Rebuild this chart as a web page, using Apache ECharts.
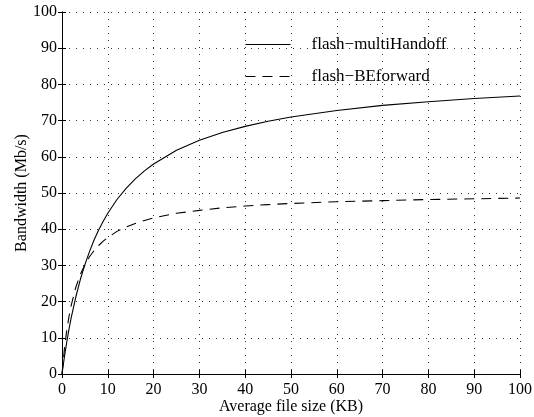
<!DOCTYPE html>
<html>
<head>
<meta charset="utf-8">
<script src="https://cdn.jsdelivr.net/npm/echarts@6/dist/echarts.min.js"></script>
<style>
  html, body { margin: 0; padding: 0; background: #fff; }
  #main { width: 534px; height: 417px; }
</style>
</head>
<body>
<div id="main"></div>
<script>
// values
var fileSize = [0, 0.5, 1, 1.5, 2, 3, 4, 5, 6, 7, 8, 9, 10, 12, 14, 16, 18, 20, 25, 30, 35, 40, 45, 50, 60, 70, 80, 90, 100];
var multiHandoff = [0, 4.5, 8.5, 12.2, 15.5, 21.2, 26.1, 30.2, 33.8, 37.0, 39.8, 42.2, 44.4, 48.2, 51.3, 53.9, 56.1, 58.0, 61.8, 64.6, 66.7, 68.4, 69.8, 71.0, 72.8, 74.2, 75.2, 76.1, 76.8];
var beForward = [0, 6.6, 11.7, 15.7, 18.9, 23.9, 27.5, 30.2, 32.4, 34.1, 35.5, 36.7, 37.7, 39.4, 40.6, 41.6, 42.4, 43.1, 44.4, 45.2, 45.9, 46.4, 46.8, 47.1, 47.6, 47.9, 48.2, 48.4, 48.6];
var seriesNames = ['flash\u2212multiHandoff', 'flash\u2212BEforward'];

function pairs(xs, ys) {
  return xs.map(function (x, i) { return [x, ys[i]]; });
}

var font = 'Liberation Serif';
var myChart = echarts.init(document.getElementById('main'));

var tickIn = { show: true, inside: true, length: 4, lineStyle: { color: '#000' } };
var dotted = { show: true, lineStyle: { color: '#333', type: [1, 6], width: 1 } };

var option = {
  backgroundColor: '#fff',
  animation: false,
  grid: { left: 62, right: 14, top: 12, bottom: 43, outerBoundsMode: 'none' },
  legend: {
    orient: 'vertical',
    left: 240,
    top: 31,
    itemWidth: 45,
    itemHeight: 14,
    itemGap: 15,
    itemStyle: { opacity: 0 },
    lineStyle: { width: 1 },
    textStyle: { fontFamily: font, fontSize: 17, color: '#000', padding: [0, 0, 0, 16] },
    data: seriesNames
  },
  xAxis: [
    {
      type: 'value', min: 0, max: 100, interval: 10,
      name: 'Average file size (KB)', nameLocation: 'middle', nameGap: 25,
      nameMoveOverlap: false,
      nameTextStyle: { fontFamily: font, fontSize: 16, color: '#000' },
      axisLine: { show: true, lineStyle: { color: '#000', width: 1 } },
      axisTick: tickIn,
      axisLabel: { fontFamily: font, fontSize: 16, color: '#000', margin: 8 },
      splitLine: dotted
    },
    {
      type: 'value', position: 'top', min: 0, max: 100, interval: 10,
      axisLine: { show: true, lineStyle: { color: '#000', width: 1 } },
      axisTick: tickIn,
      axisLabel: { show: false },
      splitLine: { show: false }
    }
  ],
  yAxis: [
    {
      type: 'value', min: 0, max: 100, interval: 10,
      name: 'Bandwidth (Mb/s)', nameLocation: 'middle', nameGap: 32,
      nameMoveOverlap: false,
      nameTextStyle: { fontFamily: font, fontSize: 16, color: '#000' },
      axisLine: { show: true, lineStyle: { color: '#000', width: 1 } },
      axisTick: tickIn,
      axisLabel: { fontFamily: font, fontSize: 16, color: '#000', margin: 5 },
      splitLine: dotted
    },
    {
      type: 'value', position: 'right', min: 0, max: 100, interval: 10,
      axisLine: { show: true, lineStyle: { color: '#000', width: 1 } },
      axisTick: tickIn,
      axisLabel: { show: false },
      splitLine: { show: false }
    }
  ],
  series: [
    {
      name: seriesNames[0],
      type: 'line',
      xAxisIndex: 0, yAxisIndex: 0,
      showSymbol: false, symbol: 'none',
      lineStyle: { color: '#000', width: 1.1, type: 'solid' },
      itemStyle: { color: '#000' },
      data: pairs(fileSize, multiHandoff)
    },
    {
      name: seriesNames[1],
      type: 'line',
      xAxisIndex: 0, yAxisIndex: 0,
      showSymbol: false, symbol: 'none',
      lineStyle: { color: '#000', width: 1.1, type: [10, 7] },
      itemStyle: { color: '#000' },
      data: pairs(fileSize, beForward)
    }
  ]
};

myChart.setOption(option, true);
</script>
</body>
</html>
